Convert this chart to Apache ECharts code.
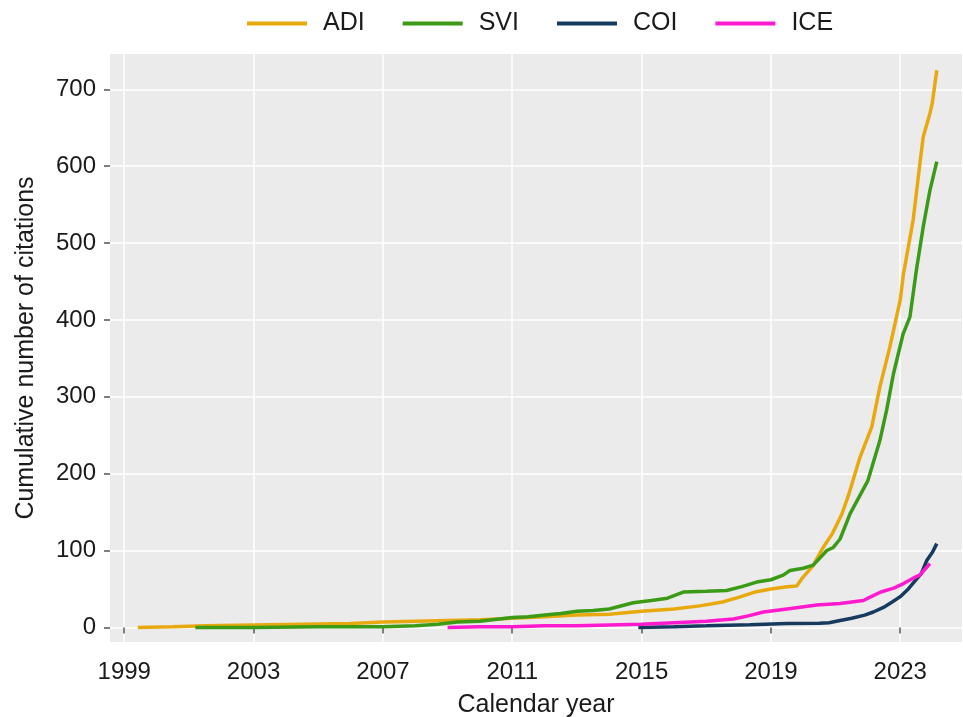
<!DOCTYPE html>
<html>
<head>
<meta charset="utf-8">
<script src="https://cdn.jsdelivr.net/npm/echarts@6/dist/echarts.min.js"></script>
<style>
html,body{margin:0;padding:0;background:#fff;}
#chart{width:963px;height:717px;}
</style>
</head>
<body>
<div id="chart"></div>
<script>
// ---- data ----
const seriesNames = ['ADI', 'SVI', 'COI', 'ICE'];
const xTicks = [1999, 2003, 2007, 2011, 2015, 2019, 2023];
const yTicks = [0, 100, 200, 300, 400, 500, 600, 700];

const adiYears  = [1999.42, 2000.5, 2001.5, 2003.0, 2004.5, 2006.0, 2007.0, 2008.0, 2009.0, 2010.0, 2011.0, 2012.0, 2013.0, 2014.0, 2015.0, 2016.0, 2016.8, 2017.5, 2018.0, 2018.5, 2019.0, 2019.5, 2019.8, 2019.95, 2020.3, 2020.6, 2020.9, 2021.2, 2021.4, 2021.76, 2022.12, 2022.37, 2022.68, 2023.0, 2023.1, 2023.4, 2023.61, 2023.71, 2023.92, 2023.99, 2024.13];
const adiCounts = [0, 1, 2, 3, 4, 5, 7, 8, 9, 10, 12, 14, 16, 17, 21, 24, 28, 33, 39, 46, 50, 53, 54, 63, 80, 103, 122, 148, 172, 222, 261, 313, 365, 426, 460, 530, 604, 638, 669, 682, 725];

const sviYears  = [2001.2, 2003, 2005, 2007, 2008, 2008.7, 2009.3, 2010.0, 2010.6, 2011.0, 2011.5, 2012.0, 2012.5, 2013.0, 2013.5, 2014.0, 2014.74, 2015.3, 2015.8, 2016.29, 2017.0, 2017.63, 2018.1, 2018.56, 2019.0, 2019.38, 2019.59, 2020.0, 2020.31, 2020.73, 2020.93, 2021.14, 2021.45, 2022.0, 2022.37, 2022.58, 2022.79, 2023.09, 2023.3, 2023.5, 2023.71, 2023.92, 2024.13];
const sviCounts = [0, 0, 1, 1, 2, 4, 7, 8, 11, 13, 14, 16, 18, 21, 22, 24, 32, 35, 38, 46, 47, 48, 53, 59, 62, 68, 74, 77, 81, 100, 104, 115, 148, 191, 243, 283, 330, 382, 404, 465, 521, 569, 606];

const coiYears  = [2014.9, 2016, 2017, 2018.35, 2019.5, 2020.5, 2020.8, 2021.14, 2021.5, 2021.9, 2022.17, 2022.48, 2022.75, 2023.0, 2023.25, 2023.51, 2023.65, 2023.82, 2024.0, 2024.13];
const coiCounts = [0, 1, 2, 3.5, 5, 5.5, 6, 9, 12, 16, 20, 26, 33, 40, 50, 63, 70, 87, 98, 109];

const iceYears  = [2009.0, 2010, 2011, 2012, 2013, 2014, 2015, 2016, 2017, 2017.84, 2018.3, 2018.77, 2019.5, 2020.42, 2021.14, 2021.86, 2022.1, 2022.4, 2022.8, 2023.1, 2023.4, 2023.6, 2023.75, 2023.92];
const iceCounts = [0, 1, 1, 2, 2, 3, 4, 6, 8, 11, 15, 20, 24, 29, 31, 35, 40, 46, 51, 57, 64, 68, 75, 83];

const colors = ['#E8A90E', '#3B9B16', '#173B5E', '#FF19CF'];

function zip(xs, ys) { return xs.map((x, i) => [x, ys[i]]); }
const seriesData = [zip(adiYears, adiCounts), zip(sviYears, sviCounts), zip(coiYears, coiCounts), zip(iceYears, iceCounts)];

const font = 'Liberation Sans, Arial, sans-serif';
const textColor = '#1a1a1a';
const chart = echarts.init(document.getElementById('chart'), null, {renderer: 'canvas'});
chart.setOption({
  animation: false,
  backgroundColor: '#ffffff',
  textStyle: {fontFamily: font},
  legend: {
    top: 11,
    left: 247,
    padding: 0,
    icon: 'rect',
    itemWidth: 60,
    itemHeight: 4,
    itemGap: 38,
    data: seriesNames,
    formatter: function (n) { return '{t|' + n + '}'; },
    textStyle: {
      fontFamily: font, fontSize: 25, color: textColor,
      rich: {t: {fontFamily: font, fontSize: 25, color: textColor, padding: [0, 0, 0, 11]}}
    }
  },
  grid: {
    left: 110, right: 1, top: 54, bottom: 75,
    containLabel: false,
    outerBoundsMode: 'none',
    show: true, backgroundColor: '#EBEBEB', borderWidth: 0
  },
  xAxis: {
    type: 'value',
    min: 1998.56, max: 2024.91,
    name: 'Calendar year',
    nameLocation: 'middle',
    nameGap: 51,
    nameTextStyle: {fontFamily: font, fontSize: 25, color: textColor},
    axisLine: {show: false},
    axisTick: {show: true, length: 6, lineStyle: {color: '#555', width: 1.5}, customValues: xTicks},
    axisLabel: {fontFamily: font, fontSize: 24, color: textColor, margin: 18, customValues: xTicks,
      formatter: function (v) { return String(v); }},
    splitLine: {show: true, lineStyle: {color: '#ffffff', width: 1.5}}
  },
  yAxis: {
    type: 'value',
    min: -19, max: 746,
    name: 'Cumulative number of citations',
    nameLocation: 'middle',
    nameGap: 71,
    nameTextStyle: {fontFamily: font, fontSize: 25, color: textColor},
    axisLine: {show: false},
    axisTick: {show: true, length: 6, lineStyle: {color: '#555', width: 1.5}, customValues: yTicks},
    axisLabel: {fontFamily: font, fontSize: 24, color: textColor, margin: 14, customValues: yTicks},
    splitLine: {show: true, lineStyle: {color: '#ffffff', width: 1.5}}
  },
  series: seriesNames.map((n, i) => ({
    name: n,
    type: 'line',
    data: seriesData[i],
    symbol: 'none',
    showSymbol: false,
    color: colors[i],
    lineStyle: {color: colors[i], width: 3.5},
    itemStyle: {color: colors[i]}
  }))
});
</script>
</body>
</html>
